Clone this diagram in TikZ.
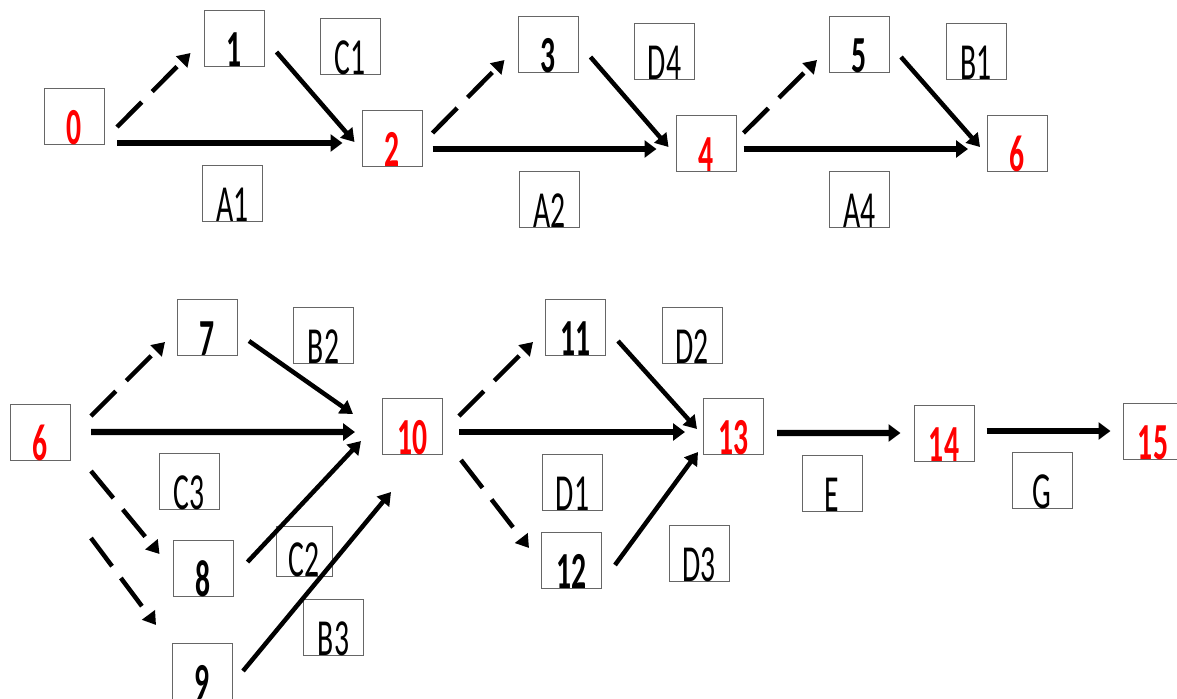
\documentclass[tikz,border=0pt]{standalone}
\usepackage{fontspec}
\setmainfont{Carlito}
\usetikzlibrary{arrows.meta}
\def\slim#1{\scalebox{0.57}[1]{#1}}

\begin{document}
\begin{tikzpicture}[x=0.025cm, y=-0.025cm,
	box/.style={draw=black!60, line width=0.7pt, minimum width=1.5cm, inner xsep=0pt, inner ysep=0pt,
		text height=1.4cm, text depth=0pt, font=\fontsize{37}{37}\selectfont},
	ev/.style={box, font=\fontsize{37}{37}\selectfont\bfseries},
	key/.style={ev, text=red},
	act/.style={line width=3.2pt, -{Triangle[length=9pt, width=11pt]}},
	flow/.style={line width=4.3pt, -{Triangle[length=8.5pt, width=12pt]}},
	dummy/.style={act, dash pattern=on 25pt off 10.5pt}]
			%%%%% START %%%%%
			\useasboundingbox (0,0) rectangle (1177,698);
			
			% first stage
			\node[key] (e0) at (74.5,116) {\slim{0}};
			\node[ev] (e1) at (234,38) {\slim{1}};
			\node[key] (e2) at (392,138) {\slim{2}};
			\node[ev] (e3) at (548,44) {\slim{3}};
			\node[key] (e4) at (706,143) {\slim{4}};
			\node[ev] (e5) at (859.5,44) {\slim{5}};
			\node[key] (e6) at (1017.5,143) {\slim{6}};
			
			\node[box] (lA1) at (232.5,193) {\slim{A1}};
			\node[box] (lC1) at (350,46) {\slim{C1}};
			\node[box] (lA2) at (549.5,199.5) {\slim{A2}};
			\node[box] (lD4) at (664.5,51) {\slim{D4}};
			\node[box] (lA4) at (859.5,199) {\slim{A4}};
			\node[box] (lB1) at (976,51) {\slim{B1}};
			
			\draw[dummy] ([shift={(12,11)}]e0.east) -- ([shift={(-13,15)}]e1.west);
			\draw[flow] ([shift={(12,27)}]e0.east) -- ([shift={(-19,5)}]e2.west);
			\draw[act] ([shift={(12,14)}]e1.east) -- ([shift={(-7,4)}]e2.west);
			\draw[dummy] ([shift={(10,-5)}]e2.east) -- ([shift={(-13,16)}]e3.west);
			\draw[flow] ([shift={(10,11)}]e2.east) -- ([shift={(-19,6)}]e4.west);
			\draw[act] ([shift={(12,13)}]e3.east) -- ([shift={(-7,4)}]e4.west);
			\draw[dummy] ([shift={(7,-10)}]e4.east) -- ([shift={(-12,16)}]e5.west);
			\draw[flow] ([shift={(7,6)}]e4.east) -- ([shift={(-19,6)}]e6.west);
			\draw[act] ([shift={(11,13)}]e5.east) -- ([shift={(-7,4)}]e6.west);
			
			% second stage
			\node[key] (f6) at (40.5,432) {\slim{6}};
			\node[ev] (e7) at (207.5,327) {\slim{7}};
			\node[ev] (e8) at (203,568) {\slim{8}};
			\node[ev] (e9) at (202.5,671) {\slim{9}};
			\node[key] (e10) at (412.5,426.5) {\slim{10}};
			\node[ev] (e11) at (575.5,327) {\slim{11}};
			\node[ev] (e12) at (571.5,560) {\slim{12}};
			\node[key] (e13) at (733.5,426.5) {\slim{13}};
			\node[key] (e14) at (944,433.5) {\slim{14}};
			\node[key] (e15) at (1153,431.5) {\slim{15}};
			
			\node[box] (lB2) at (323.5,335) {\slim{B2}};
			\node[box] (lC3) at (189,481) {\slim{C3}};
			\node[box, minimum width=1.4cm, text height=1.25cm] (lC2) at (304,551) {\slim{C2}};
			\node[box] (lB3) at (333.5,627) {\slim{B3}};
			\node[box] (lD2) at (692,335) {\slim{D2}};
			\node[box] (lD1) at (572.5,482) {\slim{D1}};
			\node[box] (lD3) at (699,553) {\slim{D3}};
			\node[box] (lE) at (832,483) {\slim{E}};
			\node[box] (lG) at (1042,480) {\slim{G}};
			
			\draw[dummy] ([shift={(20,-16)}]f6.east) -- ([shift={(-12,15)}]e7.west);
			\draw[flow] ([shift={(20,0)}]f6.east) -- ([shift={(-27,5.5)}]e10.west);
			\draw[dummy] ([shift={(20,39)}]f6.east) -- ([shift={(-13,-14)}]e8.west);
			\draw[dummy] ([shift={(20,106)}]f6.east) -- ([shift={(-16,-46)}]e9.west);
			\draw[act] ([shift={(11,14)}]e7.east) -- ([shift={(-29,-12.5)}]e10.west);
			\draw[act] ([shift={(14,-6)}]e8.east) -- ([shift={(-21,14.5)}]e10.west);
			\draw[act] ([shift={(10,0)}]e9.east) -- ([shift={(9,37)}]e10.south west);
			\draw[dummy] ([shift={(16,-10.5)}]e10.east) -- ([shift={(-12,15)}]e11.west);
			\draw[flow] ([shift={(16,5.5)}]e10.east) -- ([shift={(-18,5.5)}]e13.west);
			\draw[dummy] ([shift={(18,33.5)}]e10.east) -- ([shift={(-12,-12)}]e12.west);
			\draw[act] ([shift={(12,14)}]e11.east) -- ([shift={(-6,2.5)}]e13.west);
			\draw[act] ([shift={(13,5)}]e12.east) -- ([shift={(-5,25.5)}]e13.west);
			\draw[flow] ([shift={(13,6.5)}]e13.east) -- ([shift={(-13,-0.5)}]e14.west);
			\draw[flow] ([shift={(12,-2.5)}]e14.east) -- ([shift={(-12,-0.5)}]e15.west);
			
			%%%%% END %%%%%
\end{tikzpicture}
\end{document}
